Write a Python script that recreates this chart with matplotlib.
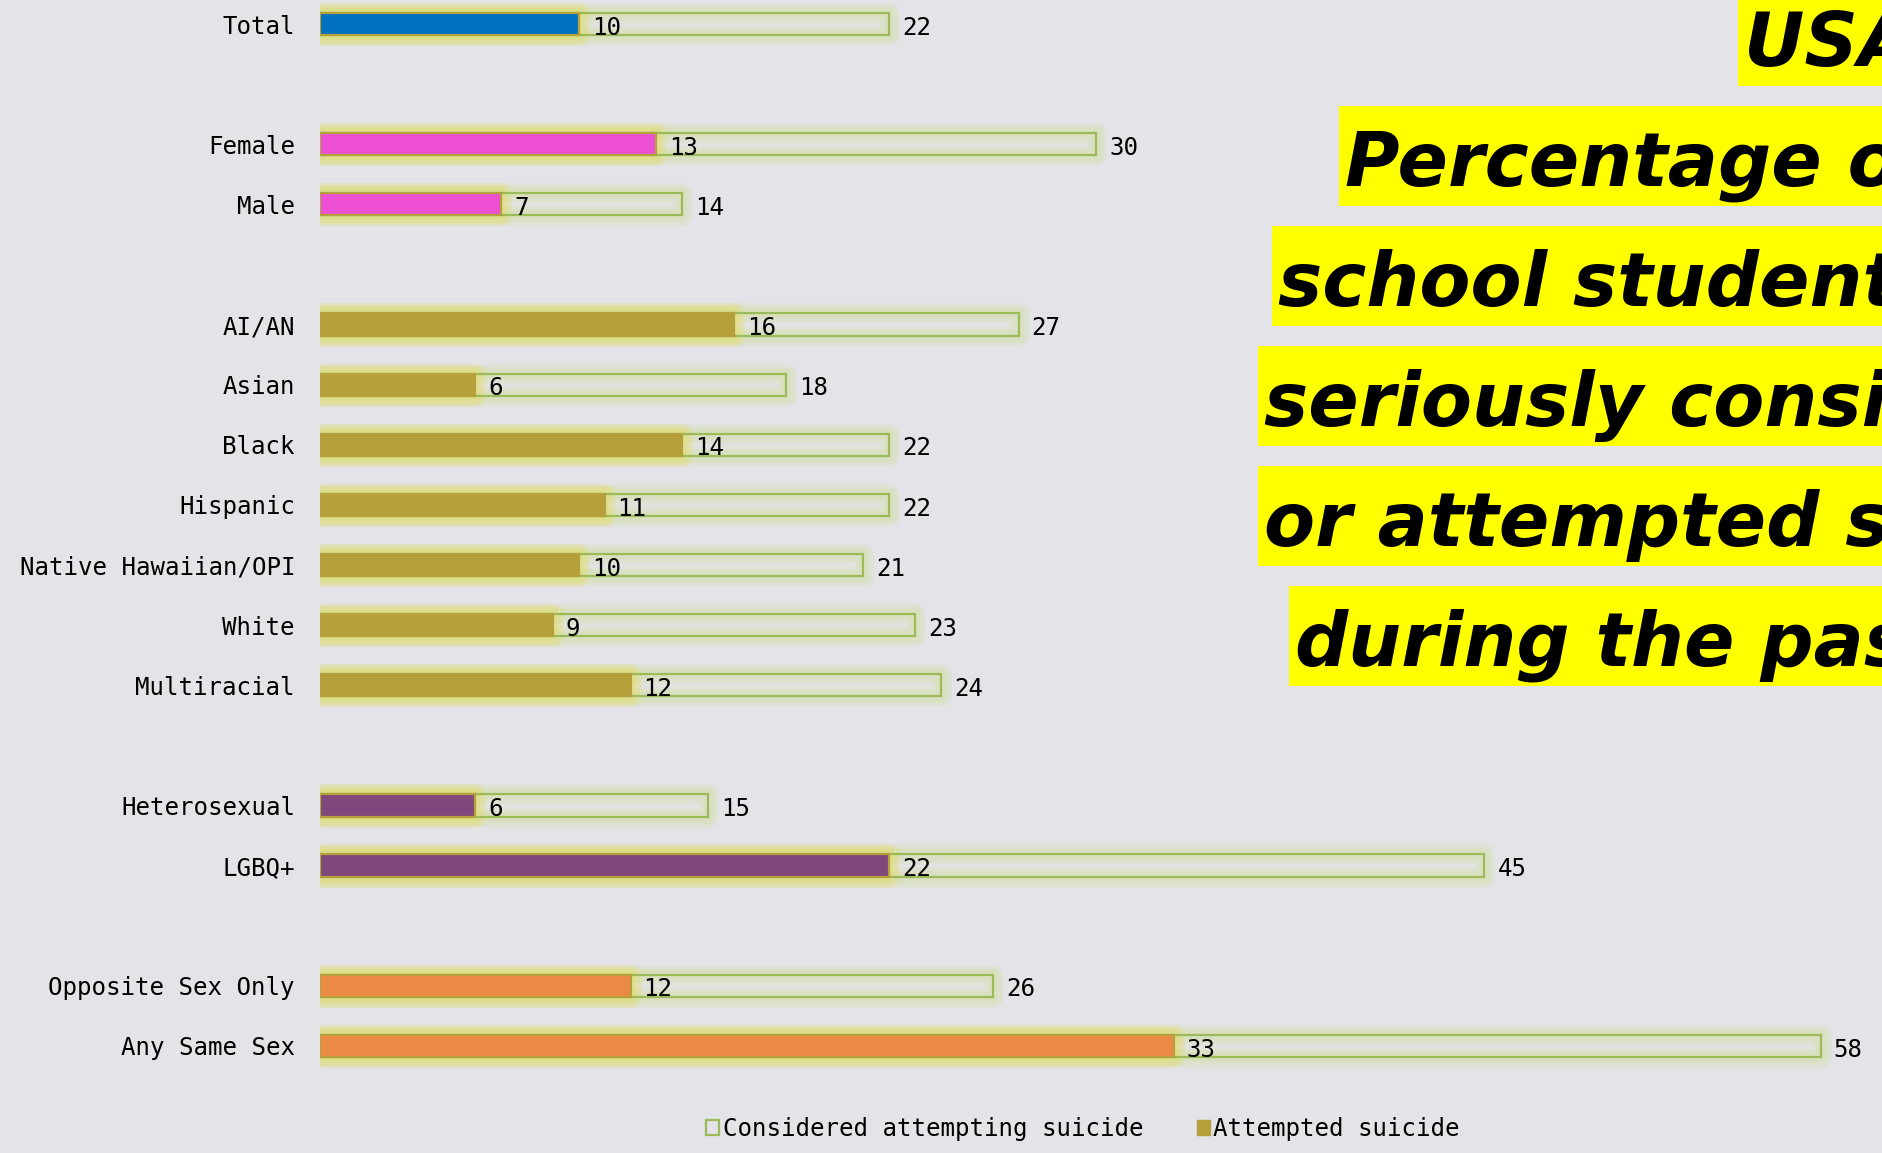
import matplotlib.pyplot as plt
from matplotlib.patches import Patch, Rectangle

# YRBS 2021, high school students
groups = ["Total", "Female", "Male", "AI/AN", "Asian", "Black", "Hispanic",
          "Native Hawaiian/OPI", "White", "Multiracial", "Heterosexual", "LGBQ+",
          "Opposite Sex Only", "Any Same Sex"]
rows = [0, 2, 3, 5, 6, 7, 8, 9, 10, 11, 13, 14, 16, 17]
considered = [22, 30, 14, 27, 18, 22, 22, 21, 23, 24, 15, 45, 26, 58]
attempted = [10, 13, 7, 16, 6, 14, 11, 10, 9, 12, 6, 22, 12, 33]
colors = ["#0070c0", "#ec4fd3", "#ec4fd3"] + ["#b5a03c"] * 7 + ["#7f477b"] * 2 + ["#eb8a47"] * 2

title_lines = ["USA 2021", "Percentage of high", "school students who",
               "seriously considered", "or attempted suicide", "during the past year"]

BG = "#e3e3e8"
GREEN = "#9bbb59"
GOLD = "#b5a03c"
MONO = "DejaVu Sans Mono"
FS = 17.4
W, H = 1883, 1153

fig = plt.figure(figsize=(W / 100, H / 100), dpi=100, facecolor=BG)
ax = fig.add_axes([320 / W, 1 - 1100 / H, 1 - 320 / W, 1100 / H])
ax.set_facecolor("none")
h = 0.37

# soft glow behind the bars
for lw in (15, 11, 7):
    ax.barh(rows, considered, height=h, color="none", edgecolor="#cfe08a",
            linewidth=lw, alpha=0.16, joinstyle="round")
    ax.barh(rows, attempted, height=h, color="none", edgecolor="#e6dc5a",
            linewidth=lw, alpha=0.22, joinstyle="round")

ax.barh(rows, considered, height=h, color="none", edgecolor=GREEN, linewidth=1.6)
ax.barh(rows, attempted, height=h, color=colors, edgecolor=GOLD, linewidth=1.6)

for y, c, a in zip(rows, considered, attempted):
    ax.text(a + 0.5, y + 0.06, str(a), va="center", ha="left", family=MONO, fontsize=FS)
    ax.text(c + 0.5, y + 0.06, str(c), va="center", ha="left", family=MONO, fontsize=FS)

ax.set_yticks(rows)
ax.set_yticklabels(groups, family=MONO, fontsize=FS)
ax.tick_params(length=0, pad=18, labelbottom=False)
ax.set_xlim(0, 60.4)
ax.set_ylim(17.9, -0.4)
for s in ax.spines.values():
    s.set_visible(False)

# title, one highlighted box per line (runs past the right edge)
lefts = [1744, 1345, 1278, 1264, 1264, 1295]
base = [66, 186, 306, 426, 546, 666]
title_texts = []
for txt, x, y in zip(title_lines, lefts, base):
    t = fig.text(x / W, 1 - y / H, txt, ha="left", va="baseline",
                 family="DejaVu Sans", fontweight="bold", style="oblique",
                 fontsize=53.6, color="black", zorder=3)
    title_texts.append((t, y))

fig.canvas.draw()
for t, y in title_texts:
    bb = t.get_window_extent()
    x0 = bb.x0 - 6
    y0 = H - y - 20
    fig.patches.append(Rectangle((x0 / W, y0 / H), (W - x0 + 10) / W, 100 / H,
                                 transform=fig.transFigure, facecolor="#ffff00",
                                 edgecolor="none", zorder=1))

handles = [Patch(facecolor="none", edgecolor=GREEN, linewidth=1.6),
           Patch(facecolor=GOLD, edgecolor=GOLD)]
fig.legend(handles, ["Considered attempting suicide", "Attempted suicide"],
           loc="center", bbox_to_anchor=(1083 / W, 1 - 1129 / H), ncol=2,
           frameon=False, prop=dict(family=MONO, size=FS),
           handlelength=0.55, handleheight=0.55, handletextpad=0.15, columnspacing=2.2)

fig.savefig("out.png", dpi=100, facecolor=BG)
